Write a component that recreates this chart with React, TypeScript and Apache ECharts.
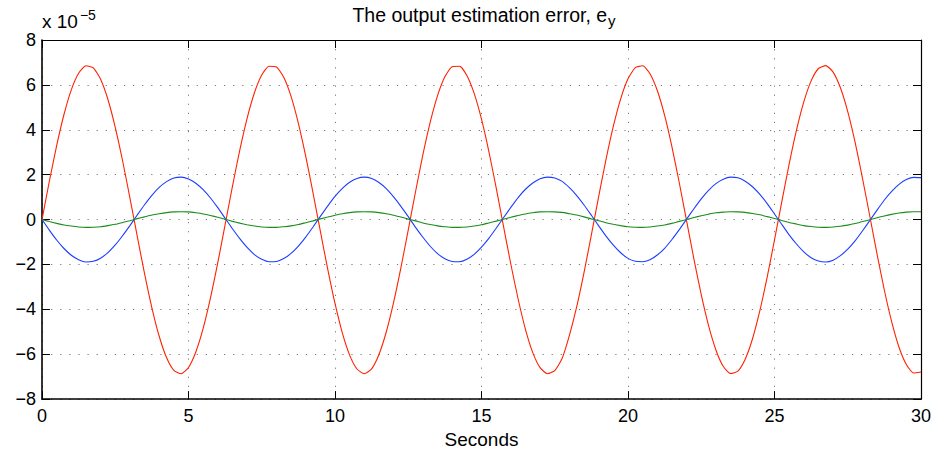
import React, { useEffect, useRef } from "react";
import * as echarts from "echarts";

const seconds = [
  0, 0.25, 0.5, 0.75, 1, 1.25, 1.5, 1.75, 2, 2.25, 2.5, 2.75, 3, 3.25, 3.5, 3.75,
  4, 4.25, 4.5, 4.75, 5, 5.25, 5.5, 5.75, 6, 6.25, 6.5, 6.75, 7, 7.25, 7.5, 7.75,
  8, 8.25, 8.5, 8.75, 9, 9.25, 9.5, 9.75, 10, 10.25, 10.5, 10.75, 11, 11.25, 11.5, 11.75,
  12, 12.25, 12.5, 12.75, 13, 13.25, 13.5, 13.75, 14, 14.25, 14.5, 14.75, 15, 15.25, 15.5, 15.75,
  16, 16.25, 16.5, 16.75, 17, 17.25, 17.5, 17.75, 18, 18.25, 18.5, 18.75, 19, 19.25, 19.5, 19.75,
  20, 20.25, 20.5, 20.75, 21, 21.25, 21.5, 21.75, 22, 22.25, 22.5, 22.75, 23, 23.25, 23.5, 23.75,
  24, 24.25, 24.5, 24.75, 25, 25.25, 25.5, 25.75, 26, 26.25, 26.5, 26.75, 27, 27.25, 27.5, 27.75,
  28, 28.25, 28.5, 28.75, 29, 29.25, 29.5, 29.75, 30,
];

// values in units of 1e-5
const redErr = [
  0, 1.7, 3.29, 4.68, 5.78, 6.52, 6.85, 6.76, 6.25, 5.35, 4.11, 2.62, 0.97, -0.74, -2.41, -3.93,
  -5.2, -6.15, -6.72, -6.87, -6.59, -5.9, -4.85, -3.49, -1.92, -0.23, 1.48, 3.09, 4.51, 5.65, 6.44, 6.83,
  6.8, 6.34, 5.49, 4.29, 2.83, 1.19, -0.52, -2.2, -3.74, -5.05, -6.04, -6.66, -6.87, -6.65, -6.01, -5.01,
  -3.69, -2.14, -0.46, 1.25, 2.89, 4.34, 5.52, 6.36, 6.81, 6.83, 6.42, 5.62, 4.47, 3.04, 1.42, -0.29,
  -1.98, -3.54, -4.89, -5.93, -6.6, -6.87, -6.73, -6.19, -5.16, -3.88, -2.35, -0.68, 1.03, 2.68, 4.16, 5.38,
  6.27, 6.77, 6.85, 6.5, 5.75, 4.64, 3.24, 1.64, -0.06, -1.76, -3.35, -4.73, -5.81, -6.54, -6.86, -6.75,
  -6.22, -5.31, -4.06, -2.57, -0.91, 0.8, 2.47, 3.98, 5.24, 6.18, 6.73, 6.86, 6.57, 5.87, 4.81, 3.45,
  1.86, 0.17, -1.54, -3.15, -4.56, -5.69, -6.46, -6.84, -6.79,
];

const blueErr = [
  0, -0.47, -0.91, -1.29, -1.59, -1.79, -1.89, -1.86, -1.72, -1.47, -1.13, -0.72, -0.27, 0.2, 0.66, 1.08,
  1.43, 1.69, 1.85, 1.89, 1.81, 1.62, 1.33, 0.96, 0.53, 0.06, -0.41, -0.85, -1.24, -1.56, -1.77, -1.88,
  -1.87, -1.74, -1.51, -1.18, -0.78, -0.33, 0.14, 0.6, 1.03, 1.39, 1.66, 1.83, 1.89, 1.83, 1.65, 1.38,
  1.01, 0.59, 0.13, -0.35, -0.79, -1.19, -1.52, -1.75, -1.87, -1.88, -1.77, -1.55, -1.23, -0.84, -0.39, 0.08,
  0.54, 0.98, 1.35, 1.63, 1.82, 1.89, 1.85, 1.7, 1.42, 1.07, 0.65, 0.19, -0.28, -0.74, -1.14, -1.48,
  -1.73, -1.86, -1.88, -1.79, -1.58, -1.28, -0.89, -0.45, 0.02, 0.48, 0.92, 1.3, 1.6, 1.8, 1.89, 1.86,
  1.71, 1.46, 1.12, 0.71, 0.25, -0.22, -0.68, -1.09, -1.44, -1.7, -1.85, -1.89, -1.81, -1.61, -1.32, -0.95,
  -0.51, -0.05, 0.42, 0.87, 1.25, 1.57, 1.78, 1.88, 1.87,
];

const greenErr = [
  0, -0.09, -0.17, -0.24, -0.29, -0.33, -0.35, -0.34, -0.32, -0.27, -0.21, -0.13, -0.05, 0.04, 0.12, 0.2,
  0.26, 0.31, 0.34, 0.35, 0.34, 0.3, 0.25, 0.18, 0.1, 0.01, -0.08, -0.16, -0.23, -0.29, -0.33, -0.35,
  -0.35, -0.32, -0.28, -0.22, -0.14, -0.06, 0.03, 0.11, 0.19, 0.26, 0.31, 0.34, 0.35, 0.34, 0.31, 0.26,
  0.19, 0.11, 0.02, -0.06, -0.15, -0.22, -0.28, -0.32, -0.35, -0.35, -0.33, -0.29, -0.23, -0.15, -0.07, 0.01,
  0.1, 0.18, 0.25, 0.3, 0.34, 0.35, 0.34, 0.32, 0.26, 0.2, 0.12, 0.03, -0.05, -0.14, -0.21, -0.27,
  -0.32, -0.34, -0.35, -0.33, -0.29, -0.24, -0.17, -0.08, 0.0, 0.09, 0.17, 0.24, 0.3, 0.33, 0.35, 0.34,
  0.32, 0.27, 0.21, 0.13, 0.05, -0.04, -0.13, -0.2, -0.27, -0.31, -0.34, -0.35, -0.33, -0.3, -0.25, -0.18,
  -0.09, -0.01, 0.08, 0.16, 0.23, 0.29, 0.33, 0.35, 0.35,
];

const titleText = "The output estimation error, e";
const titleSub = "y";
const xName = "Seconds";
const exponentBase = "x 10";
const exponentPow = "\u22125";

const FONT = "'Liberation Sans', Arial, Helvetica, sans-serif";

export default function App() {
  const ref = useRef<HTMLDivElement>(null);
  useEffect(() => {
    if (!ref.current) return;
    const chart = echarts.init(ref.current, null, { renderer: "svg" });
    const pair = (arr: number[]) => seconds.map((t, i) => [t, arr[i]]);
    const lineSeries = (name: string, arr: number[], color: string) => ({
      name,
      type: "line",
      data: pair(arr),
      smooth: 0.2,
      showSymbol: false,
      symbol: "none",
      lineStyle: { color, width: 1.1 },
      z: 3,
    });
    const dotted = { color: "#7a7a7a", width: 1, type: [1.2, 7.9] as any };
    chart.setOption({
      animation: false,
      backgroundColor: "#ffffff",
      textStyle: { fontFamily: FONT },
      grid: { left: 42, right: 18, top: 40, bottom: 46, containLabel: false },
      xAxis: [
        {
          type: "value",
          min: 0,
          max: 30,
          interval: 5,
          position: "bottom",
          name: xName,
          nameLocation: "middle",
          nameGap: 21,
          nameTextStyle: { fontSize: 19, color: "#000", fontFamily: FONT },
          axisLine: { onZero: false, lineStyle: { color: "#000", width: 1.6 } },
          axisTick: { inside: true, length: 8, lineStyle: { color: "#000", width: 1 } },
          axisLabel: { fontSize: 18, color: "#000", margin: 8, fontFamily: FONT },
          splitLine: { show: true, lineStyle: dotted },
        },
        {
          type: "value",
          min: 0,
          max: 30,
          interval: 5,
          position: "top",
          axisLine: { onZero: false, lineStyle: { color: "#000", width: 1.2 } },
          axisTick: { inside: true, length: 8, lineStyle: { color: "#000", width: 1 } },
          axisLabel: { show: false },
          splitLine: { show: false },
        },
      ],
      yAxis: [
        {
          type: "value",
          min: -8,
          max: 8,
          interval: 2,
          position: "left",
          axisLine: { onZero: false, lineStyle: { color: "#000", width: 1.6 } },
          axisTick: { inside: true, length: 8, lineStyle: { color: "#000", width: 1 } },
          axisLabel: {
            fontSize: 18,
            color: "#000",
            margin: 6,
            fontFamily: FONT,
            formatter: (v: number) => (v < 0 ? "\u2212" + Math.abs(v) : String(v)),
          },
          splitLine: { show: true, lineStyle: dotted },
        },
        {
          type: "value",
          min: -8,
          max: 8,
          interval: 2,
          position: "right",
          axisLine: { onZero: false, lineStyle: { color: "#000", width: 1.2 } },
          axisTick: { inside: true, length: 8, lineStyle: { color: "#000", width: 1 } },
          axisLabel: { show: false },
          splitLine: { show: false },
        },
      ],
      graphic: [
        {
          type: "text",
          x: 484,
          y: 15,
          style: {
            text: "{m|" + titleText + "}{s|" + titleSub + "}",
            align: "center",
            verticalAlign: "middle",
            rich: {
              m: { fontSize: 19.5, fontFamily: FONT, fill: "#000" },
              s: { fontSize: 15, fontFamily: FONT, fill: "#000", padding: [10, 0, 0, 1] },
            },
          },
        },
        {
          type: "text",
          x: 42,
          y: 35,
          style: {
            text: "{m|" + exponentBase + "}{s|" + exponentPow + "}",
            align: "left",
            verticalAlign: "bottom",
            rich: {
              m: { fontSize: 19, fontFamily: FONT, fill: "#000" },
              s: { fontSize: 14, fontFamily: FONT, fill: "#000", padding: [0, 0, 13, 2] },
            },
          },
        },
      ],
      series: [
        lineSeries("red", redErr, "#ff2200"),
        lineSeries("blue", blueErr, "#1a3dff"),
        lineSeries("green", greenErr, "#1a8c1a"),
      ],
    });
    return () => chart.dispose();
  }, []);
  return (
    <div
      ref={ref}
      style={{ position: "absolute", left: 0, top: 0, width: 939, height: 454 }}
    />
  );
}
